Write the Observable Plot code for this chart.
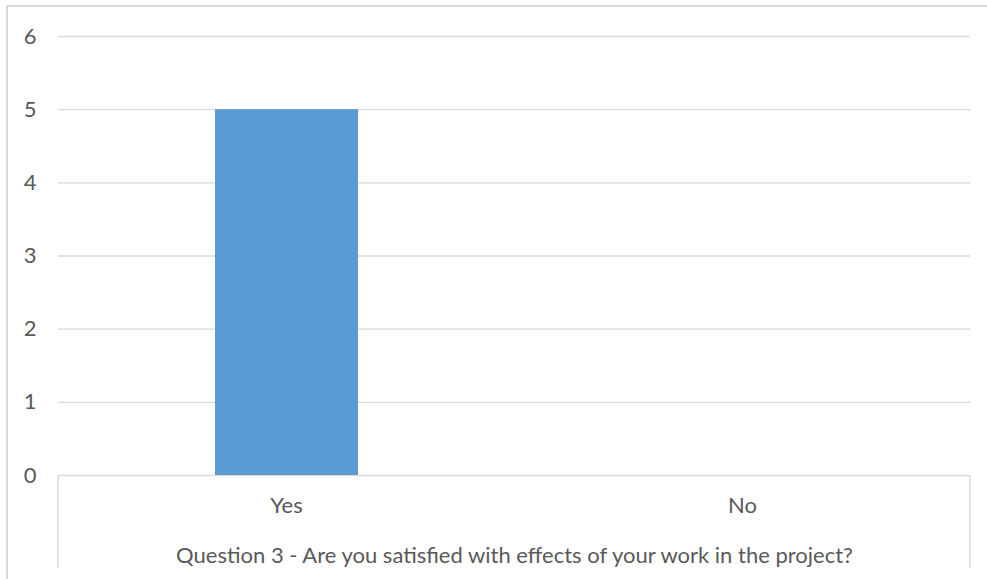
<!DOCTYPE html>
<html>
<head>
<meta charset="utf-8">
<script src="https://cdn.jsdelivr.net/npm/d3@7"></script>
<script src="https://cdn.jsdelivr.net/npm/@observablehq/plot@0.6"></script>
<style>
  html, body { margin: 0; padding: 0; background: #fff; overflow: hidden; }
  #frame { position: absolute; left: 6px; top: 5px; width: 1100px; height: 700px;
           border: 2px solid #d9d9d9; box-sizing: border-box; }
  #chart { position: absolute; left: 0; top: 0; }
</style>
</head>
<body>
<div id="frame"></div>
<div id="chart"></div>
<script>
const categories = ["Yes", "No"];
const counts = [5, 0];
const yTicks = [0, 1, 2, 3, 4, 5, 6];
const axisTitle = "Question 3 - Are you satisfied with effects of your work in the project?";

const data = categories.map((c, i) => ({category: c, count: counts[i]}));
const font = "Lato, 'Open Sans', sans-serif";
const textColor = "#595959";
const gridColor = "#d9d9d9";
const fs = 22;

const chart = Plot.plot({
  width: 987,
  height: 579,
  marginLeft: 58,
  marginRight: 17,
  marginTop: 36,
  marginBottom: 104,
  style: {fontFamily: font, fontSize: fs + "px", color: textColor, background: "transparent", overflow: "visible"},
  x: {domain: categories, padding: 0, label: null},
  y: {domain: [0, 6], ticks: yTicks, label: null},
  marks: [
    Plot.gridY(yTicks, {stroke: gridColor, strokeOpacity: 1, strokeWidth: 1.3}),
    Plot.barY(data, {x: "category", y: "count", fill: "#5b9bd5", insetLeft: 157, insetRight: 156}),
    Plot.axisY({ticks: yTicks, tickFormat: d3.format("d"), tickSize: 0, tickPadding: 22, fill: textColor, fontSize: fs, label: null}),
    Plot.axisX({tickSize: 0, tickPadding: 22, fill: textColor, fontSize: fs, label: null}),
    Plot.text([axisTitle], {frameAnchor: "bottom", dy: 87, lineAnchor: "bottom", fill: textColor, fontSize: fs})
  ]
});
document.getElementById("chart").appendChild(chart);

// category-axis box (Excel multi-level axis borders), derived from scales
const xs = chart.scale("x");
const ys = chart.scale("y");
const svg = d3.select(chart);
const x0 = xs.range[0], x1 = xs.range[1];
const yBase = ys.apply(0);
const yEnd = ys.apply(-1.27);
const g = svg.append("g").attr("stroke", gridColor).attr("stroke-width", 1.5).attr("fill", "none");
g.append("line").attr("x1", x0).attr("x2", x0).attr("y1", yBase).attr("y2", yEnd);
g.append("line").attr("x1", x1).attr("x2", x1).attr("y1", yBase).attr("y2", yEnd);
</script>
</body>
</html>
